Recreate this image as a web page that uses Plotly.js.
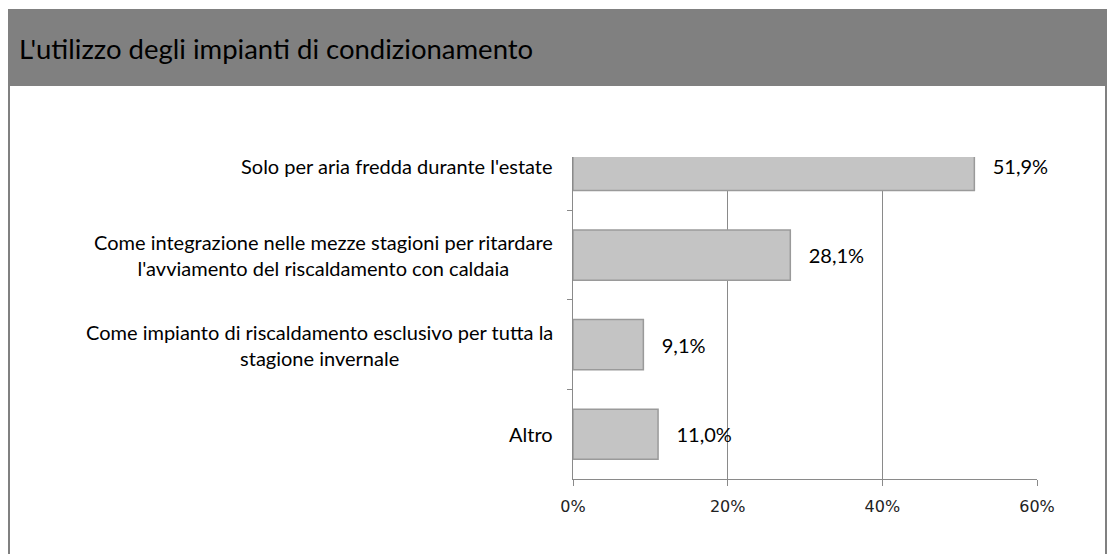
<!DOCTYPE html>
<html>
<head>
<meta charset="utf-8">
<script src="https://cdn.plot.ly/plotly-3.0.1.min.js"></script>
<style>html,body{margin:0;padding:0;background:#fff;}#chart{width:1109px;height:554px;}</style>
</head>
<body>
<div id="chart"></div>
<script>
// Data
var categories = [
  "Solo per aria fredda durante l'estate",
  "Come integrazione nelle mezze stagioni per ritardare<br>l'avviamento del riscaldamento con caldaia",
  "Come impianto di riscaldamento esclusivo per tutta la<br>stagione invernale",
  "Altro"
];
var values = [51.9, 28.1, 9.1, 11.0];
var xTickVals = [0, 20, 40, 60];
var xTickText = ["0%", "20%", "40%", "60%"];
var chartTitle = "L'utilizzo degli impianti di condizionamento";

// Layout geometry (pixels)
var W = 1109, H = 554;
var plotL = 573, plotR = 1037, plotT = 157, plotB = 479;
var pw = plotR - plotL, ph = plotB - plotT;
function px(x) { return (x - plotL) / pw; }
function py(y) { return (plotB - y) / ph; }

var labelFont = {family: "Lato, 'Open Sans', sans-serif", size: 20, color: "#000"};

var trace = {
  type: "bar",
  orientation: "h",
  x: values,
  y: categories,
  width: 0.56,
  marker: {color: "#c4c4c4", line: {color: "#9a9a9a", width: 1.5}},
  texttemplate: "\u00a0\u00a0\u00a0%{x:.1f}%",
  textposition: "outside",
  textfont: labelFont,
  cliponaxis: false,
  constraintext: "none",
  hoverinfo: "skip"
};

var annotations = categories.map(function (c) {
  return {
    xref: "paper", yref: "y", x: 0, y: c, xanchor: "right", yanchor: "middle",
    xshift: -18, text: c, align: "center", showarrow: false, font: labelFont
  };
});

var layout = {
  width: W, height: H,
  margin: {l: plotL, r: W - plotR, t: plotT, b: H - plotB, pad: 0},
  paper_bgcolor: "#fff", plot_bgcolor: "rgba(0,0,0,0)",
  separators: ",.",
  showlegend: false,
  title: {
    text: chartTitle,
    xref: "container", x: 19 / W, xanchor: "left",
    yref: "container", y: 1 - 49 / H, yanchor: "middle",
    font: {family: "Lato, 'Open Sans', sans-serif", size: 27.5, color: "#000"}
  },
  xaxis: {
    range: [0, 60], tickvals: xTickVals, ticktext: xTickText,
    showgrid: true, gridcolor: "#8a8a8a", gridwidth: 1,
    zeroline: false, showline: true, linecolor: "#8a8a8a", linewidth: 1,
    ticks: "outside", ticklen: 6, tickcolor: "#8a8a8a",
    ticklabelstandoff: 7,
    tickfont: {family: "'DejaVu Sans', sans-serif", size: 16, color: "#222"},
    fixedrange: true
  },
  yaxis: {
    type: "category", range: [3.5, -0.095],
    showticklabels: false, showgrid: false, zeroline: false,
    showline: true, linecolor: "#8a8a8a", linewidth: 1,
    ticks: "outside", tickson: "boundaries", ticklen: 5, tickcolor: "#8a8a8a",
    fixedrange: true
  },
  annotations: annotations,
  shapes: [
    {type: "rect", xref: "paper", yref: "paper", x0: px(8), x1: px(1107), y0: py(86), y1: py(9),
     fillcolor: "#808080", line: {width: 0}, layer: "below"},
    {type: "line", xref: "paper", yref: "paper", x0: px(9), x1: px(9), y0: py(86), y1: py(556),
     line: {color: "#808080", width: 2}},
    {type: "line", xref: "paper", yref: "paper", x0: px(1106), x1: px(1106), y0: py(86), y1: py(556),
     line: {color: "#808080", width: 2}}
  ]
};

Plotly.newPlot("chart", [trace], layout, {displayModeBar: false, staticPlot: true});
</script>
</body>
</html>
